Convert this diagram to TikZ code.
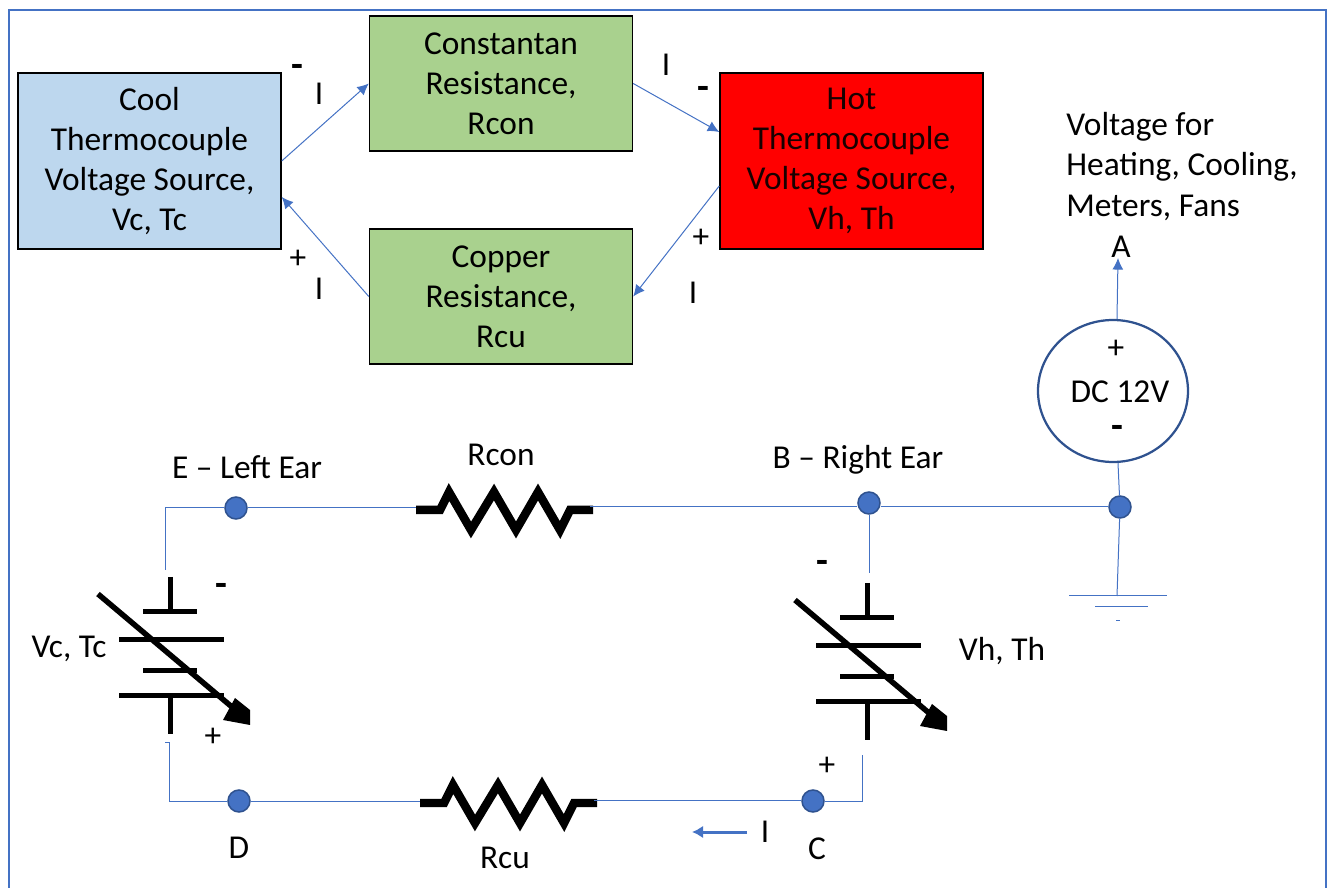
\documentclass[tikz,border=0pt]{standalone}
\usepackage{fontspec}
\setmainfont{Carlito}
\usetikzlibrary{arrows.meta,calc,shapes.geometric}
\definecolor{wireblue}{HTML}{4472C4}
\definecolor{dotedge}{HTML}{2F528F}
\definecolor{coolblue}{HTML}{BDD7EE}
\definecolor{resgreen}{HTML}{A9D18E}
\tikzset{
  block/.style={draw=black, line width=0.03cm, minimum width=5.26cm, align=center, font=\fontsize{19}{22.8}\selectfont, inner sep=0pt},
  wire/.style={draw=wireblue, line width=0.02cm},
  flow/.style={wire, -{Latex[length=0.23cm,width=0.22cm]}},
  dot/.style={circle, fill=wireblue, draw=dotedge, line width=0.03cm, minimum size=0.44cm, inner sep=0pt},
  lbl/.style={font=\fontsize{19}{22.8}\selectfont, inner sep=0pt},
  sign/.style={font=\fontsize{19}{19}\selectfont, inner sep=0pt},
  bar/.style={font=\fontsize{22}{22}\bfseries\selectfont, inner sep=0pt, text height=1ex, text depth=0pt},
  pics/zigzag/.style={code={
    \draw[line width=0.17cm, miter limit=10] (0,0) -- (24,0) -- (33,-18) -- (55,20) -- (78,-18) -- (100,20) -- (122,-18) -- (144,20) -- (154,0) -- (177,0);
    \coordinate (-left) at (0,-2);
    \coordinate (-right) at (174,-3);
  }},
  pics/varcell/.style={code={
    \draw[line width=0.1cm] (0,0) -- (0,35);
    \draw[line width=0.1cm] (-27,35) -- (27,35);
    \draw[line width=0.1cm] (-51,63) -- (54,63);
    \draw[line width=0.1cm] (-27,94) -- (27,94);
    \draw[line width=0.1cm] (-51,119) -- (54,119);
    \draw[line width=0.1cm] (0,119) -- (0,157);
    \draw[line width=0.11cm] (-72,17) -- (62,130);
    \fill (65,121) -- (53,143) -- (80,148) -- (80,133) -- cycle;
  }},
}

\begin{document}
\begin{tikzpicture}[x=0.02cm, y=-0.02cm]
  \useasboundingbox (0,0) rectangle (1330,888);
  \draw[wireblue, line width=0.035cm] (9,888) -- (9,10) -- (1326,10) -- (1326,888);

  % upper blocks
  \node[block, fill=coolblue, minimum height=3.52cm] (cool) at (149.5,161) {Cool\\Thermocouple\\Voltage Source,\\Vc, Tc};
  \node[block, fill=resgreen, minimum height=2.7cm] (constantan) at (501,83.5) {Constantan\\Resistance,\\Rcon};
  \node[block, fill=resgreen, minimum height=2.7cm] (copper) at (501,296.5) {Copper\\Resistance,\\Rcu};
  \node[block, fill=red, minimum height=3.52cm, text=black!90!red] (hot) at (851.5,161) {Hot\\Thermocouple\\Voltage Source,\\Vh, Th};

  \draw[flow] (cool.east) -- (constantan.west);
  \draw[flow] (constantan.east) -- ([yshift=0.58cm]hot.west);
  \draw[flow] ([yshift=-0.5cm]hot.west) -- (copper.east);
  \draw[flow] (copper.west) -- ([yshift=-0.72cm]cool.east);

  \node[bar] (m1) at (297,73) {-};
  \node[lbl] (i1) at (319,94) {I};
  \node[lbl] (i2) at (666,65) {I};
  \node[bar] (m2) at (703,95) {-};
  \node[sign] (p1) at (298,259) {+};
  \node[lbl] (i3) at (319,289) {I};
  \node[sign] (p2) at (701,238) {+};
  \node[lbl] (i4) at (693,293) {I};

  % source on the right
  \node[lbl, align=left, anchor=west] (loads) at (1066,166.5) {Voltage for\\Heating, Cooling,\\Meters, Fans};
  \node[lbl] (a) at (1121,247) {A};
  \node[ellipse, draw=dotedge, line width=0.045cm, minimum width=3cm, minimum height=2.84cm, inner sep=0pt] (dc) at (1113,391) {};
  \node[lbl] (dctext) at (1120,392) {DC 12V};
  \node[sign] (dcplus) at (1116,349) {+};
  \node[bar] (dcminus) at (1117,434) {-};
  \draw[flow] ([xshift=0.08cm]dc.north) -- ([xshift=-0.06cm]a.south);

  % circuit
  \node[dot] (e) at (236,508) {};
  \node[dot] (b) at (869,503) {};
  \node[dot] (j) at (1120,507) {};
  \node[dot] (c) at (813,801) {};
  \node[dot] (d) at (239,801) {};

  \pic (rcon) at (416,510) {zigzag};
  \pic (rcu) at (420,803) {zigzag};
  \pic at (170,577) {varcell};
  \pic at (867,583) {varcell};

  \coordinate (etop) at (165,570);
  \coordinate (dtop) at (169,743);
  \coordinate (btop) at (869,573);
  \coordinate (ctop) at (862,755);
  \coordinate (gnd) at (1117,596);

  \draw[wire] (e) -- (165,508) -- (etop);
  \draw[wire] (165,743) -- (dtop) -- (169,801) -- (d);
  \draw[wire] (e.east |- rcon-left) -- (rcon-left);
  \draw[wire] (rcon-right) -- (b.west |- rcon-right);
  \draw[wire] (b.east |- j) -- (j);
  \draw[wire] (b) -- (btop);
  \draw[wire] (j) -- ([xshift=0.1cm]dc.south);
  \draw[wire] (j) -- (gnd);
  \draw[wire] (d.east |- rcu-left) -- (rcu-left);
  \draw[wire] (rcu-right) -- (c.west |- rcu-right);
  \draw[wire] (c) -- (862,801) -- (ctop);

  % ground
  \draw[wire] (1069,596) -- (1167,596);
  \draw[wire] (1095,607) -- (1148,607);
  \draw[wire] (1116,621) -- (1120,621);

  \node[lbl] (elabel) at (247,467) {E – Left Ear};
  \node[lbl] (rconlabel) at (501,455) {Rcon};
  \node[lbl] (blabel) at (858,460) {B – Right Ear};
  \node[lbl] (vc) at (69,649) {Vc, Tc};
  \node[lbl] (vh) at (1002,651) {Vh, Th};
  \node[bar] (vcminus) at (221,592) {-};
  \node[sign] (vcplus) at (213,737) {+};
  \node[bar] (vhminus) at (822,569) {-};
  \node[sign] (vhplus) at (827,766) {+};
  \node[lbl] (dlabel) at (239,848) {D};
  \node[lbl] (rculabel) at (505,858) {Rcu};
  \node[lbl] (clabel) at (817,849) {C};
  \node[lbl] (ilabel) at (765,832) {I};
  \coordinate (iend) at (692,832);
  \draw[wireblue, line width=0.06cm, -{Latex[length=0.22cm,width=0.25cm]}] (747,832) -- (iend);
\end{tikzpicture}
\end{document}
